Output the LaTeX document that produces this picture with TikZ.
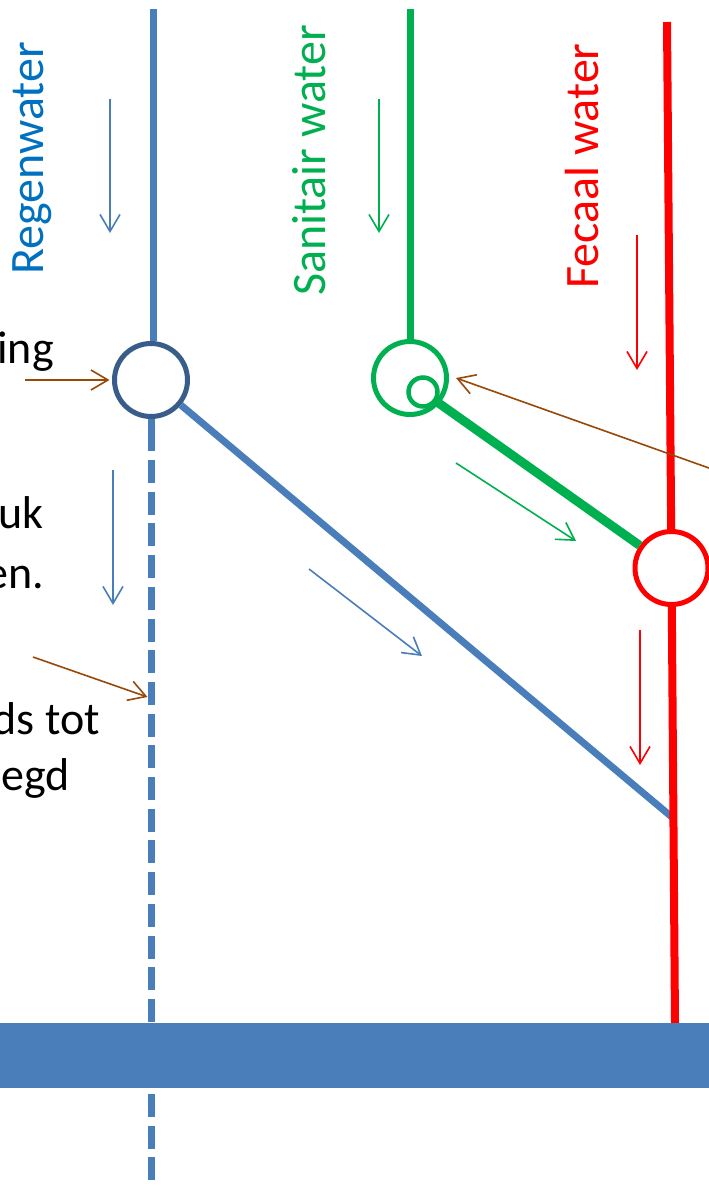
\documentclass[tikz,border=0pt]{standalone}
\usepackage{fontspec}
\setmainfont{Carlito}
\usetikzlibrary{arrows.meta}
\definecolor{pipeblue}{RGB}{74,126,187}
\definecolor{ringblue}{RGB}{56,93,138}
\definecolor{txtblue}{RGB}{0,112,192}
\definecolor{pgreen}{RGB}{0,176,80}
\definecolor{pred}{RGB}{255,0,0}
\definecolor{notebrown}{RGB}{152,72,7}
\begin{document}
\begin{tikzpicture}[x=1pt,y=-1pt,
  pipe/.style={line width=7pt},
  ring/.style={circle,draw,fill=white,line width=5pt,minimum size=73pt,inner sep=0pt},
  flow/.style={line width=1.6pt,-{Straight Barb[length=17pt,width=20pt]}},
  note/.style={line width=1.6pt,notebrown,-{Straight Barb[length=17pt,width=20pt]}},
  lbl/.style={font=\fontsize{46pt}{55pt}\selectfont,inner sep=0pt},
  vlbl/.style={font=\fontsize{48pt}{58pt}\selectfont,inner sep=0pt,rotate=90,anchor=base west},
]
\useasboundingbox (0,0) rectangle (709,1186);
\clip (0,0) rectangle (709,1186);
\fill[white] (0,0) rectangle (709,1186);

% nodes and coordinates
\node[ring,draw=ringblue] (cb) at (151,380) {};
\node[ring,draw=pgreen] (cg) at (410,378) {};
\node[circle,draw=pgreen,fill=white,line width=4.5pt,minimum size=29pt,inner sep=0pt] (cs) at (423,392) {};
\node[ring,draw=pred] (cr) at (671.5,568) {};
\coordinate (btop) at (153,9);
\coordinate (gtop) at (410,9);
\coordinate (rtop) at (667,22);
\coordinate (rbot) at (675,1023);
\coordinate (dstart) at (151,428.3);
\coordinate (dend) at (151,1190);
\coordinate (bend) at (673,818);

% pipes
\draw[pipe,pipeblue] (btop) -- (btop |- cb.north);
\draw[pipe,pipeblue] (cb.south) -- (dstart);
\draw[pipe,pipeblue,dash pattern=on 23pt off 8.7pt] (dstart) -- (dend);
\draw[pipe,pipeblue] (cb) -- (bend);
\draw[pipe,pgreen] (gtop) -- (cg);
\draw[line width=9pt,pgreen] (cs) -- (cr);
\draw[line width=8pt,pred] (rtop) -- (cr);
\draw[line width=8pt,pred] (cr) -- (rbot);
\fill[pipeblue] (0,1023) rectangle (709,1088);

% flow arrows
\coordinate (fa1) at (110,99);  \coordinate (fb1) at (110,233);
\coordinate (fa2) at (379,99);  \coordinate (fb2) at (379,233);
\coordinate (fa3) at (637,235); \coordinate (fb3) at (637,370);
\coordinate (fa4) at (113,470); \coordinate (fb4) at (113,605);
\coordinate (fa5) at (640,630); \coordinate (fb5) at (640,765);
\coordinate (fa6) at (456,463); \coordinate (fb6) at (576,541);
\coordinate (fa7) at (309,569); \coordinate (fb7) at (422,656);
\draw[flow,pipeblue] (fa1) -- (fb1);
\draw[flow,pgreen] (fa2) -- (fb2);
\draw[flow,pred] (fa3) -- (fb3);
\draw[flow,pipeblue] (fa4) -- (fb4);
\draw[flow,pred] (fa5) -- (fb5);
\draw[flow,pgreen] (fa6) -- (fb6);
\draw[flow,pipeblue] (fa7) -- (fb7);

% brown pointers
\coordinate (n1) at (25,380);
\coordinate (n2) at (33,657);  \coordinate (n2t) at (147.5,697);
\coordinate (n3) at (730,475.5); \coordinate (n3t) at (456,378);
\draw[note,shorten >=2.5pt] (n1) -- (cb);
\draw[note] (n2) -- (n2t);
\draw[note] (n3) -- (n3t);

% labels
\node[vlbl,txtblue] (lreg) at (43,275) {Regenwater};
\node[vlbl,pgreen] (lsan) at (325,296) {Sanitair water};
\node[vlbl,pred] (lfec) at (598,289) {Fecaal water};
\node[lbl,anchor=base east] (t1) at (54,363) {ing};
\node[lbl,anchor=base east] (t2) at (44,528) {uk};
\node[lbl,anchor=base east] (t3) at (44,588) {en.};
\node[lbl,anchor=base east] (t4) at (100,734) {ds tot};
\node[lbl,anchor=base east] (t5) at (70,790) {egd};
\end{tikzpicture}
\end{document}
